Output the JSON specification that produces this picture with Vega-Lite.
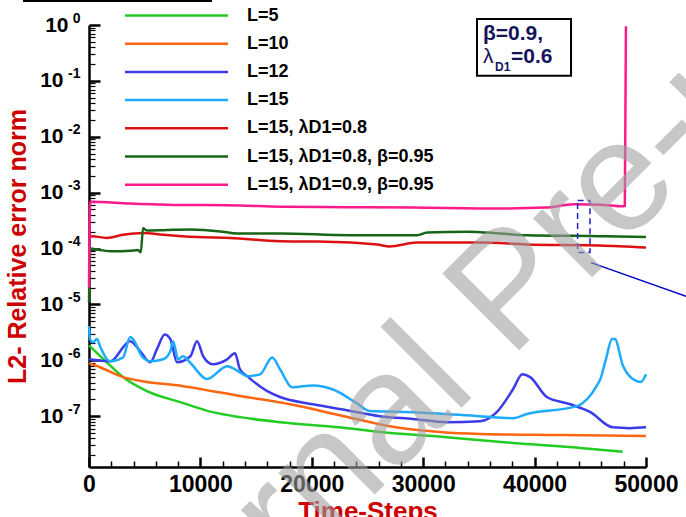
{
  "$schema": "https://vega.github.io/schema/vega-lite/v6.json",
  "width": 557,
  "height": 442,
  "autosize": {"type": "none"},
  "padding": {"left": 89, "top": 25, "right": 40, "bottom": 50},
  "background": "white",
  "config": {"view": {"stroke": null}, "font": "Liberation Sans"},
  "datasets": {
    "curves": [
      {"s": "L=5", "t": 0, "v": 1.85e-6}, {"s": "L=5", "t": 1600, "v": 9.2e-7}, {"s": "L=5", "t": 3050, "v": 5.0e-7}, {"s": "L=5", "t": 5200, "v": 2.8e-7}, {"s": "L=5", "t": 8200, "v": 1.78e-7}, {"s": "L=5", "t": 11100, "v": 1.18e-7}, {"s": "L=5", "t": 13550, "v": 9.6e-8}, {"s": "L=5", "t": 17150, "v": 7.8e-8}, {"s": "L=5", "t": 22500, "v": 6.3e-8}, {"s": "L=5", "t": 26100, "v": 5.2e-8}, {"s": "L=5", "t": 32100, "v": 4.2e-8}, {"s": "L=5", "t": 38100, "v": 3.3e-8}, {"s": "L=5", "t": 44100, "v": 2.7e-8}, {"s": "L=5", "t": 47900, "v": 2.3e-8},

      {"s": "L=10", "t": 0, "v": 8.9e-7}, {"s": "L=10", "t": 990, "v": 7.5e-7}, {"s": "L=10", "t": 3050, "v": 5.0e-7}, {"s": "L=10", "t": 5200, "v": 4.1e-7}, {"s": "L=10", "t": 8200, "v": 3.5e-7}, {"s": "L=10", "t": 11100, "v": 2.8e-7}, {"s": "L=10", "t": 13550, "v": 2.3e-7}, {"s": "L=10", "t": 18050, "v": 1.63e-7}, {"s": "L=10", "t": 22500, "v": 1.04e-7}, {"s": "L=10", "t": 27000, "v": 6.6e-8}, {"s": "L=10", "t": 31500, "v": 5.2e-8}, {"s": "L=10", "t": 35100, "v": 4.8e-8}, {"s": "L=10", "t": 42300, "v": 4.6e-8}, {"s": "L=10", "t": 50000, "v": 4.4e-8},

      {"s": "L=12", "t": 0, "v": 1.04e-6}, {"s": "L=12", "t": 1900, "v": 9.6e-7}, {"s": "L=12", "t": 3700, "v": 2.2e-6}, {"s": "L=12", "t": 4600, "v": 1.45e-6}, {"s": "L=12", "t": 5500, "v": 9.2e-7}, {"s": "L=12", "t": 6100, "v": 1.58e-6}, {"s": "L=12", "t": 6800, "v": 2.9e-6}, {"s": "L=12", "t": 7300, "v": 2.4e-6}, {"s": "L=12", "t": 7900, "v": 9.2e-7}, {"s": "L=12", "t": 9100, "v": 1.18e-6}, {"s": "L=12", "t": 9700, "v": 2.2e-6}, {"s": "L=12", "t": 10250, "v": 1.18e-6}, {"s": "L=12", "t": 11100, "v": 8.5e-7}, {"s": "L=12", "t": 12400, "v": 1.04e-6}, {"s": "L=12", "t": 13100, "v": 1.33e-6}, {"s": "L=12", "t": 13550, "v": 6.9e-7}, {"s": "L=12", "t": 14200, "v": 5.2e-7}, {"s": "L=12", "t": 16000, "v": 2.8e-7}, {"s": "L=12", "t": 17150, "v": 2.2e-7}, {"s": "L=12", "t": 20100, "v": 1.63e-7}, {"s": "L=12", "t": 23150, "v": 1.28e-7}, {"s": "L=12", "t": 26100, "v": 1.0e-7}, {"s": "L=12", "t": 29100, "v": 8.9e-8}, {"s": "L=12", "t": 32150, "v": 7.8e-8}, {"s": "L=12", "t": 35100, "v": 8.1e-8}, {"s": "L=12", "t": 36600, "v": 1.18e-7}, {"s": "L=12", "t": 38050, "v": 3.0e-7}, {"s": "L=12", "t": 38900, "v": 5.6e-7}, {"s": "L=12", "t": 39600, "v": 5.0e-7}, {"s": "L=12", "t": 41100, "v": 2.2e-7}, {"s": "L=12", "t": 43200, "v": 1.63e-7}, {"s": "L=12", "t": 45000, "v": 1.18e-7}, {"s": "L=12", "t": 47000, "v": 6.3e-8}, {"s": "L=12", "t": 48550, "v": 6.1e-8}, {"s": "L=12", "t": 50000, "v": 6.3e-8},

      {"s": "L=15", "t": 0, "v": 4.1e-6}, {"s": "L=15", "t": 90, "v": 2.4e-6}, {"s": "L=15", "t": 360, "v": 2.1e-6}, {"s": "L=15", "t": 720, "v": 2.4e-6}, {"s": "L=15", "t": 990, "v": 1.78e-6}, {"s": "L=15", "t": 1900, "v": 9.6e-7}, {"s": "L=15", "t": 3050, "v": 1.12e-6}, {"s": "L=15", "t": 3700, "v": 2.6e-6}, {"s": "L=15", "t": 3950, "v": 2.4e-6}, {"s": "L=15", "t": 4750, "v": 1.18e-6}, {"s": "L=15", "t": 5500, "v": 9.6e-7}, {"s": "L=15", "t": 6650, "v": 1.04e-6}, {"s": "L=15", "t": 7300, "v": 1.45e-6}, {"s": "L=15", "t": 7550, "v": 2.2e-6}, {"s": "L=15", "t": 8000, "v": 1.04e-6}, {"s": "L=15", "t": 8450, "v": 1.18e-6}, {"s": "L=15", "t": 9050, "v": 9.2e-7}, {"s": "L=15", "t": 10600, "v": 4.6e-7}, {"s": "L=15", "t": 12400, "v": 7.8e-7}, {"s": "L=15", "t": 13550, "v": 6.1e-7}, {"s": "L=15", "t": 14200, "v": 5.2e-7}, {"s": "L=15", "t": 15350, "v": 5.6e-7}, {"s": "L=15", "t": 16450, "v": 1.12e-6}, {"s": "L=15", "t": 17150, "v": 6.9e-7}, {"s": "L=15", "t": 18250, "v": 3.3e-7}, {"s": "L=15", "t": 20100, "v": 3.55e-7}, {"s": "L=15", "t": 21900, "v": 3.0e-7}, {"s": "L=15", "t": 24050, "v": 1.7e-7}, {"s": "L=15", "t": 25200, "v": 1.23e-7}, {"s": "L=15", "t": 29100, "v": 1.18e-7}, {"s": "L=15", "t": 35100, "v": 1.0e-7}, {"s": "L=15", "t": 38050, "v": 9.2e-8}, {"s": "L=15", "t": 39300, "v": 1.09e-7}, {"s": "L=15", "t": 43800, "v": 1.51e-7}, {"s": "L=15", "t": 45600, "v": 3.55e-7}, {"s": "L=15", "t": 45900, "v": 4.6e-7}, {"s": "L=15", "t": 46400, "v": 1.04e-6}, {"s": "L=15", "t": 46950, "v": 2.4e-6}, {"s": "L=15", "t": 47200, "v": 2.4e-6}, {"s": "L=15", "t": 47950, "v": 7.8e-7}, {"s": "L=15", "t": 49200, "v": 4.2e-7}, {"s": "L=15", "t": 49550, "v": 4.1e-7}, {"s": "L=15", "t": 50000, "v": 5.6e-7},

      {"s": "L=15, λD1=0.8", "t": 0, "v": 1.6e-4}, {"s": "L=15, λD1=0.8", "t": 270, "v": 1.65e-4}, {"s": "L=15, λD1=0.8", "t": 1600, "v": 1.55e-4}, {"s": "L=15, λD1=0.8", "t": 3050, "v": 1.76e-4}, {"s": "L=15, λD1=0.8", "t": 4850, "v": 1.9e-4}, {"s": "L=15, λD1=0.8", "t": 6650, "v": 1.76e-4}, {"s": "L=15, λD1=0.8", "t": 9700, "v": 1.6e-4}, {"s": "L=15, λD1=0.8", "t": 12650, "v": 1.55e-4}, {"s": "L=15, λD1=0.8", "t": 17150, "v": 1.35e-4}, {"s": "L=15, λD1=0.8", "t": 20450, "v": 1.33e-4}, {"s": "L=15, λD1=0.8", "t": 25850, "v": 1.18e-4}, {"s": "L=15, λD1=0.8", "t": 27000, "v": 1.09e-4}, {"s": "L=15, λD1=0.8", "t": 29450, "v": 1.28e-4}, {"s": "L=15, λD1=0.8", "t": 35350, "v": 1.28e-4}, {"s": "L=15, λD1=0.8", "t": 39300, "v": 1.18e-4}, {"s": "L=15, λD1=0.8", "t": 45850, "v": 1.13e-4}, {"s": "L=15, λD1=0.8", "t": 50000, "v": 1.04e-4},

      {"s": "L=15, λD1=0.8, β=0.95", "t": 0, "v": 1.1e-5}, {"s": "L=15, λD1=0.8, β=0.95", "t": 100, "v": 1.0e-4}, {"s": "L=15, λD1=0.8, β=0.95", "t": 990, "v": 9.4e-5}, {"s": "L=15, λD1=0.8, β=0.95", "t": 2150, "v": 8.9e-5}, {"s": "L=15, λD1=0.8, β=0.95", "t": 3700, "v": 9.1e-5}, {"s": "L=15, λD1=0.8, β=0.95", "t": 4400, "v": 9.4e-5}, {"s": "L=15, λD1=0.8, β=0.95", "t": 4650, "v": 8.6e-5}, {"s": "L=15, λD1=0.8, β=0.95", "t": 4850, "v": 2.3e-4}, {"s": "L=15, λD1=0.8, β=0.95", "t": 5200, "v": 2.1e-4}, {"s": "L=15, λD1=0.8, β=0.95", "t": 6650, "v": 2.13e-4}, {"s": "L=15, λD1=0.8, β=0.95", "t": 9050, "v": 2.2e-4}, {"s": "L=15, λD1=0.8, β=0.95", "t": 12000, "v": 2.0e-4}, {"s": "L=15, λD1=0.8, β=0.95", "t": 13300, "v": 1.86e-4}, {"s": "L=15, λD1=0.8, β=0.95", "t": 17150, "v": 1.86e-4}, {"s": "L=15, λD1=0.8, β=0.95", "t": 23400, "v": 1.73e-4}, {"s": "L=15, λD1=0.8, β=0.95", "t": 29450, "v": 1.73e-4}, {"s": "L=15, λD1=0.8, β=0.95", "t": 30350, "v": 1.93e-4}, {"s": "L=15, λD1=0.8, β=0.95", "t": 33950, "v": 2.0e-4}, {"s": "L=15, λD1=0.8, β=0.95", "t": 36900, "v": 1.86e-4}, {"s": "L=15, λD1=0.8, β=0.95", "t": 39300, "v": 1.73e-4}, {"s": "L=15, λD1=0.8, β=0.95", "t": 45900, "v": 1.66e-4}, {"s": "L=15, λD1=0.8, β=0.95", "t": 50000, "v": 1.6e-4},

      {"s": "L=15, λD1=0.9, β=0.95", "t": 0, "v": 2e-5}, {"s": "L=15, λD1=0.9, β=0.95", "t": 100, "v": 6.9e-4}, {"s": "L=15, λD1=0.9, β=0.95", "t": 3700, "v": 6.4e-4}, {"s": "L=15, λD1=0.9, β=0.95", "t": 7000, "v": 6.1e-4}, {"s": "L=15, λD1=0.9, β=0.95", "t": 13550, "v": 5.9e-4}, {"s": "L=15, λD1=0.9, β=0.95", "t": 17150, "v": 5.6e-4}, {"s": "L=15, λD1=0.9, β=0.95", "t": 23000, "v": 5.5e-4}, {"s": "L=15, λD1=0.9, β=0.95", "t": 29000, "v": 5.4e-4}, {"s": "L=15, λD1=0.9, β=0.95", "t": 37000, "v": 5.2e-4}, {"s": "L=15, λD1=0.9, β=0.95", "t": 41000, "v": 5.4e-4}, {"s": "L=15, λD1=0.9, β=0.95", "t": 43500, "v": 6.2e-4}, {"s": "L=15, λD1=0.9, β=0.95", "t": 45900, "v": 6.1e-4}, {"s": "L=15, λD1=0.9, β=0.95", "t": 47900, "v": 5.7e-4}, {"s": "L=15, λD1=0.9, β=0.95", "t": 48100, "v": 5.8e-4}, {"s": "L=15, λD1=0.9, β=0.95", "t": 48200, "v": 0.95}
    ],
    "one": [{}]
  },
  "data": {"name": "curves"},
  "resolve": {"axis": {"x": "independent", "y": "independent"}},
  "layer": [
    {
      "mark": {"type": "line", "strokeWidth": 2.5, "interpolate": "monotone"},
      "encoding": {
        "x": {
          "field": "t", "type": "quantitative",
          "scale": {"domain": [0, 50000], "nice": false, "zero": false},
          "axis": {
            "orient": "bottom", "values": [0, 10000, 20000, 30000, 40000, 50000], "format": "d",
            "domainWidth": 2.5, "domainColor": "black", "tickColor": "black", "tickWidth": 2.5, "tickSize": -10,
            "labelFont": "Liberation Sans", "labelFontSize": 23, "labelFontWeight": "bold", "labelColor": "black", "labelPadding": 16,
            "labelFlush": false, "labelOverlap": false, "grid": false,
            "title": "Time-Steps", "titleFont": "Liberation Sans", "titleFontSize": 26, "titleFontWeight": "bold", "titleColor": "#cc0000", "titlePadding": 2
          }
        },
        "y": {
          "field": "v", "type": "quantitative",
          "scale": {"type": "log", "domain": [1.23e-8, 1], "nice": false},
          "axis": {
            "orient": "left", "values": [1e-7, 1e-6, 1e-5, 1e-4, 1e-3, 1e-2, 1e-1, 1],
            "labelExpr": "'10'",
            "domainWidth": 2.5, "domainColor": "black", "tickColor": "black", "tickWidth": 2.5, "tickSize": -11,
            "labelFont": "Liberation Sans", "labelFontSize": 21, "labelFontWeight": "bold", "labelColor": "black",
            "labelPadding": {"condition": {"test": "datum.value >= 0.5", "value": 32}, "value": 37},
            "labelBaseline": "middle", "labelFlush": false, "labelOverlap": false, "grid": false,
            "title": "L2- Relative error norm", "titleFont": "Liberation Sans", "titleFontSize": 25, "titleFontWeight": "bold", "titleColor": "#cc0000", "titlePadding": 9
          }
        },
        "color": {
          "field": "s", "type": "nominal",
          "scale": {
            "domain": ["L=5", "L=10", "L=12", "L=15", "L=15, λD1=0.8", "L=15, λD1=0.8, β=0.95", "L=15, λD1=0.9, β=0.95"],
            "range": ["#22cc22", "#ff6611", "#3b3be8", "#1eaaff", "#dd1111", "#176617", "#ff1a8c"]
          },
          "legend": {
            "orient": "none", "legendX": 76, "legendY": -21, "title": null, "padding": 0,
            "symbolType": "M-5.15,0H5.15", "symbolSize": 400, "symbolStrokeWidth": 2.5,
            "labelFont": "Liberation Sans", "labelFontSize": 18, "labelFontWeight": "bold", "labelColor": "black",
            "labelOffset": 59, "rowPadding": 7.2, "labelLimit": 0
          }
        }
      }
    },
    {
      "mark": {"type": "point", "opacity": 0},
      "encoding": {
        "x": {
          "field": "t", "type": "quantitative",
          "axis": {
            "orient": "bottom", "values": [2000, 4000, 6000, 8000, 12000, 14000, 16000, 18000, 22000, 24000, 26000, 28000, 32000, 34000, 36000, 38000, 42000, 44000, 46000, 48000],
            "labels": false, "domain": false, "tickColor": "black", "tickWidth": 1.5, "tickSize": -6, "grid": false, "title": null
          }
        },
        "y": {
          "field": "v", "type": "quantitative",
          "axis": {
            "orient": "left",
            "values": [2e-8, 3e-8, 4e-8, 5e-8, 6e-8, 7e-8, 8e-8, 9e-8, 2e-7, 3e-7, 4e-7, 5e-7, 6e-7, 7e-7, 8e-7, 9e-7, 2e-6, 3e-6, 4e-6, 5e-6, 6e-6, 7e-6, 8e-6, 9e-6, 2e-5, 3e-5, 4e-5, 5e-5, 6e-5, 7e-5, 8e-5, 9e-5, 2e-4, 3e-4, 4e-4, 5e-4, 6e-4, 7e-4, 8e-4, 9e-4, 0.002, 0.003, 0.004, 0.005, 0.006, 0.007, 0.008, 0.009, 0.02, 0.03, 0.04, 0.05, 0.06, 0.07, 0.08, 0.09, 0.2, 0.3, 0.4, 0.5, 0.6, 0.7, 0.8, 0.9],
            "labels": false, "domain": false, "tickColor": "black", "tickWidth": 1.2, "tickSize": -6, "grid": false, "title": null
          }
        }
      }
    },
    {
      "mark": {"type": "point", "opacity": 0},
      "encoding": {
        "x": {"field": "t", "type": "quantitative", "axis": null},
        "y": {
          "field": "v", "type": "quantitative",
          "axis": {
            "orient": "left", "values": [1e-7, 1e-6, 1e-5, 1e-4, 1e-3, 1e-2, 1e-1, 1],
            "labelExpr": "datum.value >= 0.5 ? '0' : '-' + round(-log(datum.value) / LN10)",
            "ticks": false, "domain": false, "grid": false, "title": null,
            "labelFont": "Liberation Sans", "labelFontSize": 14, "labelFontWeight": "bold", "labelColor": "black",
            "labelPadding": 9, "labelOffset": -7, "labelFlush": false, "labelOverlap": false
          }
        }
      }
    },
    {
      "data": {"name": "one"},
      "mark": {"type": "rule", "stroke": "black", "strokeWidth": 2},
      "encoding": {
        "x": {"datum": -5925, "type": "quantitative", "axis": null},
        "x2": {"datum": 11040},
        "y": {"datum": 2.68, "type": "quantitative", "axis": null}
      }
    },
    {
      "data": {"name": "one"},
      "mark": {"type": "rect", "fill": "white", "fillOpacity": 0, "stroke": "black", "strokeWidth": 2},
      "encoding": {
        "x": {"datum": 34830, "type": "quantitative", "axis": null},
        "x2": {"datum": 43270},
        "y": {"datum": 1.28, "type": "quantitative", "axis": null},
        "y2": {"datum": 0.123}
      }
    },
    {
      "data": {"name": "one"},
      "mark": {"type": "text", "align": "left", "baseline": "alphabetic", "fontSize": 21, "fontWeight": "bold", "font": "Liberation Sans", "color": "#14145a", "text": "β=0.9,"},
      "encoding": {
        "x": {"datum": 35370, "type": "quantitative", "axis": null},
        "y": {"datum": 0.54, "type": "quantitative", "axis": null}
      }
    },
    {
      "data": {"name": "one"},
      "mark": {"type": "text", "align": "left", "baseline": "alphabetic", "fontSize": 21, "fontWeight": "normal", "font": "Liberation Sans", "color": "#14145a", "text": "λ"},
      "encoding": {
        "x": {"datum": 35370, "type": "quantitative", "axis": null},
        "y": {"datum": 0.2096, "type": "quantitative", "axis": null}
      }
    },
    {
      "data": {"name": "one"},
      "mark": {"type": "text", "align": "left", "baseline": "alphabetic", "fontSize": 12, "fontWeight": "bold", "font": "Liberation Sans", "color": "#14145a", "text": "D1"},
      "encoding": {
        "x": {"datum": 36450, "type": "quantitative", "axis": null},
        "y": {"datum": 0.151, "type": "quantitative", "axis": null}
      }
    },
    {
      "data": {"name": "one"},
      "mark": {"type": "text", "align": "left", "baseline": "alphabetic", "fontSize": 21, "fontWeight": "bold", "font": "Liberation Sans", "color": "#14145a", "text": "=0.6"},
      "encoding": {
        "x": {"datum": 37880, "type": "quantitative", "axis": null},
        "y": {"datum": 0.2096, "type": "quantitative", "axis": null}
      }
    },
    {
      "data": {"name": "one"},
      "mark": {"type": "rect", "fill": "white", "fillOpacity": 0, "stroke": "#2020c8", "strokeWidth": 1.5, "strokeDash": [6, 4]},
      "encoding": {
        "x": {"datum": 43860, "type": "quantitative", "axis": null},
        "x2": {"datum": 44970},
        "y": {"datum": 7.2e-4, "type": "quantitative", "axis": null},
        "y2": {"datum": 8.5e-5}
      }
    },
    {
      "data": {"name": "one"},
      "mark": {"type": "rule", "stroke": "#0000cc", "strokeWidth": 1.5},
      "encoding": {
        "x": {"datum": 45065, "type": "quantitative", "axis": null},
        "x2": {"datum": 53600},
        "y": {"datum": 5.6e-5, "type": "quantitative", "axis": null},
        "y2": {"datum": 1.39e-5}
      }
    },
    {
      "data": {"name": "one"},
      "mark": {"type": "text", "align": "center", "baseline": "alphabetic", "angle": -45, "fontSize": 158, "font": "Liberation Sans", "color": "#a0a0a0", "opacity": 0.58, "text": "Journal Pre-proof"},
      "encoding": {
        "x": {"datum": 40845, "type": "quantitative", "axis": null},
        "y": {"datum": 4.22e-6, "type": "quantitative", "axis": null}
      }
    }
  ]
}
